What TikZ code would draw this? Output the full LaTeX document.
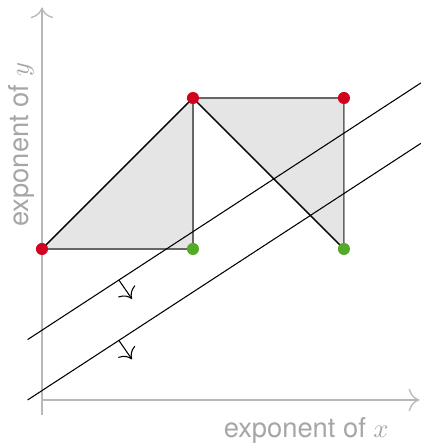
\documentclass[tikz,border=0pt]{standalone}
\usepackage{fontspec}
\setsansfont{TeX Gyre Heros}
\usetikzlibrary{calc,arrows.meta}
\definecolor{monored}{RGB}{208,2,30}
\definecolor{monogreen}{RGB}{82,170,38}

\begin{document}
\begin{tikzpicture}[x=2cm,y=2cm,>={To[scale=1.5]},
    axis/.style={draw=black!28,line width=0.5pt,->},
    axislabel/.style={text=black!35,font=\sffamily\fontsize{10.3}{12}\selectfont,inner sep=0pt},
    cell/.style={fill=black!10,draw=black!60,line width=0.6pt,line join=round},
    diag/.style={draw=black,line width=0.4pt},
    mono/.style={circle,inner sep=0pt,minimum size=0.16cm},
    lead/.style={mono,fill=monored},
    other/.style={mono,fill=monogreen}]
    \useasboundingbox (-0.278,-0.285) rectangle (2.510,2.649);
    % axes
    \coordinate (o) at (0,0);
    \coordinate (xend) at (2.5,0);
    \coordinate (ybot) at (0,-0.1);
    \coordinate (yend) at (0,2.6);
    \draw[axis] (o) -- (xend);
    \draw[axis] (ybot) -- (yend);
    \node[axislabel] (xlab) at (1.75,-0.2) {exponent of $x$};
    \node[axislabel,rotate=90] (ylab) at (-0.135,1.69) {exponent of $y$};
    % exponents
    \coordinate (e01) at (0,1);
    \coordinate (e11) at (1,1);
    \coordinate (e12) at (1,2);
    \coordinate (e21) at (2,1);
    \coordinate (e22) at (2,2);
    \path[cell] (e01) -- (e12) -- (e11) -- cycle;
    \path[cell] (e12) -- (e22) -- (e21) -- cycle;
    \draw[diag] (e01) -- (e12);
    \draw[diag] (e12) -- (e21);
    % weight lines
    \coordinate (u0) at (-0.095,0.4);
    \coordinate (u1) at (2.51,2.1);
    \coordinate (l0) at (-0.095,0);
    \coordinate (l1) at (2.51,1.7);
    \draw (u0) -- coordinate[pos=0.232] (um) (u1);
    \draw (l0) -- coordinate[pos=0.232] (lm) (l1);
    \draw[->] (um) -- ($(um)+(0.087,-0.126)$);
    \draw[->] (lm) -- ($(lm)+(0.087,-0.126)$);
    \node[lead] (m01) at (e01) {};
    \node[lead] (m12) at (e12) {};
    \node[lead] (m22) at (e22) {};
    \node[other] (m11) at (e11) {};
    \node[other] (m21) at (e21) {};
\end{tikzpicture}
\end{document}
